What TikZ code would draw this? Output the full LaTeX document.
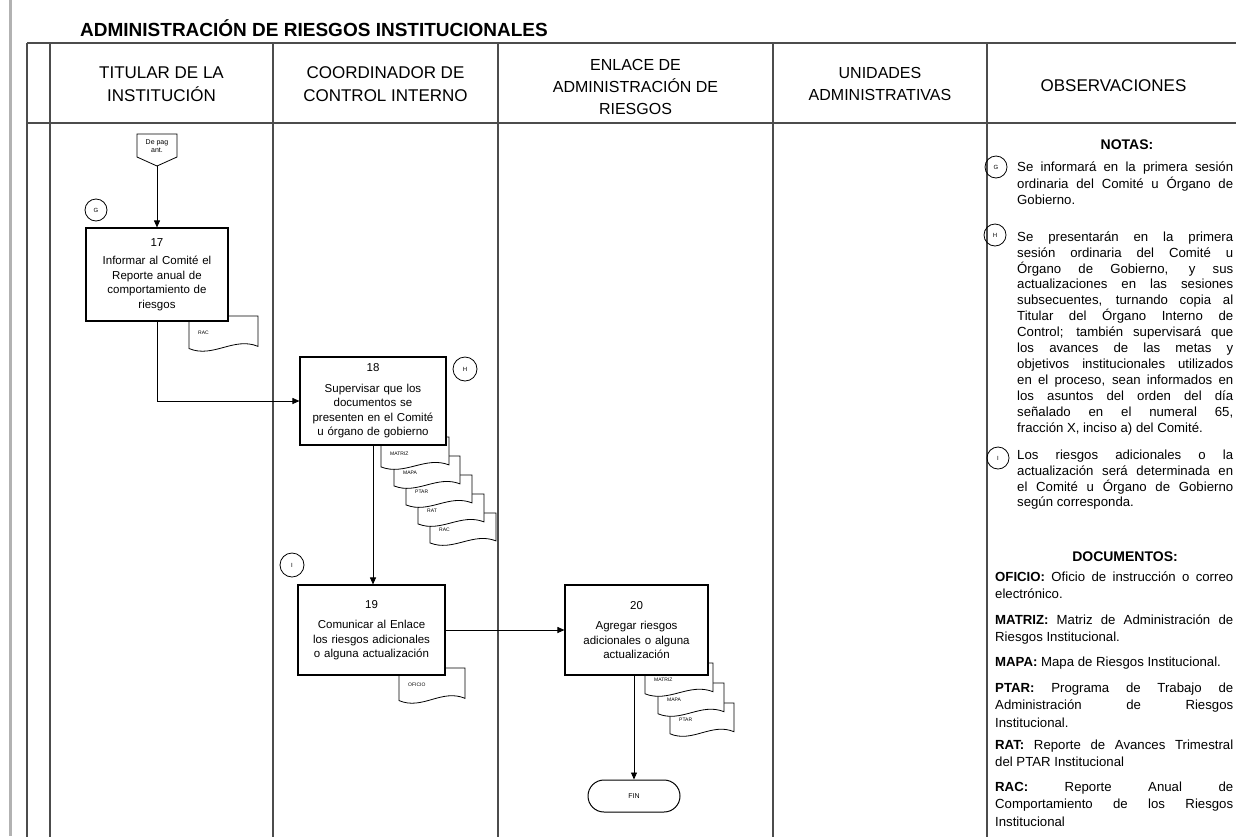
\documentclass[tikz,border=0pt]{standalone}
\usepackage{fontspec}
\setmainfont{Liberation Sans}
\usetikzlibrary{arrows.meta,shapes.misc}
\tikzset{
  tline/.style={line width=1.8pt, draw=black!70},
  procbox/.style={draw=black, line width=1.1pt, fill=white, align=center, inner sep=2pt,
    font=\fontsize{11.5}{14.5}\selectfont},
  docline/.style={draw=black, line width=0.8pt, fill=white},
  doclabel/.style={anchor=west, inner sep=0pt, font=\fontsize{5}{6}\selectfont},
  circ/.style={circle, draw=black, line width=0.8pt, minimum size=22pt, inner sep=0pt,
    font=\fontsize{6}{7}\selectfont},
  flow/.style={draw=black, line width=0.9pt, -{Triangle[length=7pt,width=6pt]}},
  hdr/.style={align=center, inner sep=0pt, font=\fontsize{17}{23}\selectfont},
  hdrs/.style={align=center, inner sep=0pt, font=\fontsize{16}{22}\selectfont},
  note/.style={anchor=north west, inner sep=0pt, align=justify, text width=216pt,
    font=\fontsize{13.2}{15.9}\selectfont},
  docu/.style={anchor=north west, inner sep=0pt, align=justify, text width=238pt,
    font=\fontsize{13.2}{17.5}\selectfont},
}
\newcommand{\mydoc}[6]{%
  \filldraw[docline] (#2,#3) -- ({#2+#4},#3) -- ({#2+#4},{#3+0.82*#5})
    .. controls ({#2+0.65*#4},{#3+0.55*#5}) and ({#2+0.35*#4},{#3+1.15*#5}) .. (#2,{#3+0.88*#5}) -- cycle;
  \node[doclabel] (#1) at ({#2+9},{#3+17}) {#6};
}
\newcommand{\nobrk}{\tolerance=10000\relax\hyphenpenalty=10000\relax\strut}
\begin{document}
\begin{tikzpicture}[x=1pt,y=-1pt]
\useasboundingbox (0,0) rectangle (1236,836);
\clip (0,0) rectangle (1236,836);
% page margin line
\draw[line width=3pt, draw=black!30] (10,0) -- (10,836);
% title
\node[anchor=west, inner sep=0pt, font=\bfseries\fontsize{19}{22}\selectfont] (title) at (80,28)
  {ADMINISTRACIÓN DE RIESGOS INSTITUCIONALES};
% table
\draw[tline] (27,43) -- (1240,43);
\draw[tline] (27,123) -- (1240,123);
\foreach \xx in {27,50,273,498,773,987} { \draw[tline] (\xx,43) -- (\xx,840); }
% headers
\node[hdr] (h1) at (161.5,84) {TITULAR DE LA\\INSTITUCIÓN};
\node[hdr] (h2) at (385.5,84) {COORDINADOR DE\\CONTROL INTERNO};
\node[hdrs] (h3) at (635.5,87) {ENLACE DE\\ADMINISTRACIÓN DE\\RIESGOS};
\node[hdrs] (h4) at (880,84) {UNIDADES\\ADMINISTRATIVAS};
\node[hdr] (h5) at (1113.5,86) {OBSERVACIONES};
% off-page connector
\filldraw[docline] (137,134) -- (177,134) -- (177,157) -- (157,166) -- (137,157) -- cycle;
\node[align=center, inner sep=0pt, font=\fontsize{7}{8}\selectfont] (dep) at (157,146) {De pag\\ant.};
\coordinate (dept) at (157,166);
% documents (back to front)
\mydoc{d17}{189}{316}{69}{37}{RAC}
\mydoc{d18e}{430}{513}{66}{34}{RAC}
\mydoc{d18d}{418}{494}{66}{34}{RAT}
\mydoc{d18c}{406}{475}{66}{34}{PTAR}
\mydoc{d18b}{394}{456}{66}{34}{MAPA}
\mydoc{d18a}{381}{437}{68}{34}{MATRIZ}
\mydoc{d19}{399}{668}{66}{37}{OFICIO}
\mydoc{d20c}{670}{703}{64}{35}{PTAR}
\mydoc{d20b}{658}{683}{66}{35}{MAPA}
\mydoc{d20a}{645}{663}{68}{35}{MATRIZ}
% process boxes
\node[procbox, text width=138pt, minimum width=142pt, minimum height=93pt] (b17) at (157,274.5)
  {17\\[4pt]Informar al Comité el\\Reporte anual de\\comportamiento de\\riesgos};
\node[procbox, text width=142pt, minimum width=146pt, minimum height=88pt] (b18) at (373,401)
  {18\\[6pt]Supervisar que los\\documentos se\\presenten en el Comité\\u órgano de gobierno};
\node[procbox, text width=143pt, minimum width=147pt, minimum height=90pt] (b19) at (371.5,630)
  {19\\[6pt]Comunicar al Enlace\\los riesgos adicionales\\o alguna actualización};
\node[procbox, text width=139pt, minimum width=143pt, minimum height=90pt] (b20) at (636.5,630)
  {20\\[6pt]Agregar riesgos\\adicionales o alguna\\actualización};
\node[draw=black, line width=1pt, fill=white, rounded corners=16pt, minimum width=92pt, minimum height=32pt,
  font=\fontsize{7}{8}\selectfont] (fin) at (634,796) {FIN};
% circles
\node[circ] (cG) at (96,210) {G};
\node[circ, minimum size=24pt] (cH) at (465,369) {H};
\node[circ, minimum size=24pt] (cI) at (292,565) {I};
% connectors
\draw[flow] (dept) -- (dept |- b17.north);
\draw[flow] (b17.south) |- (b18.west);
\draw[flow] (b18.south) -- (b18.south |- b19.north);
\draw[flow] (b19.east) -- (b20.west);
\draw[flow] (b20.south -| fin.north) -- (fin.north);
% observations
\node[inner sep=0pt, font=\bfseries\fontsize{14}{16}\selectfont] (notas) at (1127,145) {NOTAS:};
\node[circ] (nG) at (996,167) {G};
\node[note] (tG) at (1017,159.9) {\nobrk Se informará en la primera sesión\linebreak ordinaria del Comité u Órgano de\linebreak Gobierno.};
\node[circ] (nH) at (995,235) {H};
\node[note] (tH) at (1017,229.9) {\nobrk Se presentarán en la primera\linebreak sesión ordinaria del Comité u\linebreak Órgano de Gobierno, y sus\linebreak actualizaciones en las sesiones\linebreak subsecuentes, turnando copia al\linebreak Titular del Órgano Interno de\linebreak Control; también supervisará que\linebreak los avances de las metas y\linebreak objetivos institucionales utilizados\linebreak en el proceso, sean informados en\linebreak los asuntos del orden del día\linebreak señalado en el numeral 65,\linebreak fracción X, inciso a) del Comité.};
\node[circ] (nI) at (998,458) {I};
\node[note] (tI) at (1017,447.9) {\nobrk Los riesgos adicionales o la\linebreak actualización será determinada en\linebreak el Comité u Órgano de Gobierno\linebreak según corresponda.};
\node[inner sep=0pt, font=\bfseries\fontsize{14}{16}\selectfont] (docs) at (1125,557) {DOCUMENTOS:};
\node[docu] (p1) at (995,568.75) {\nobrk\textbf{OFICIO:} Oficio de instrucción o correo\linebreak electrónico.};
\node[docu] (p2) at (995,611.75) {\nobrk\textbf{MATRIZ:} Matriz de Administración de\linebreak Riesgos Institucional.};
\node[docu] (p3) at (995,653.75) {\nobrk\textbf{MAPA:} Mapa de Riesgos Institucional.};
\node[docu] (p4) at (995,679.75) {\nobrk\textbf{PTAR:} Programa de Trabajo de\linebreak Administración de Riesgos\linebreak Institucional.};
\node[docu] (p5) at (995,736.75) {\nobrk\textbf{RAT:} Reporte de Avances Trimestral\linebreak del PTAR Institucional};
\node[docu] (p6) at (995,778.75) {\nobrk\textbf{RAC:} Reporte Anual de\linebreak Comportamiento de los Riesgos\linebreak Institucional};
\end{tikzpicture}
\end{document}
